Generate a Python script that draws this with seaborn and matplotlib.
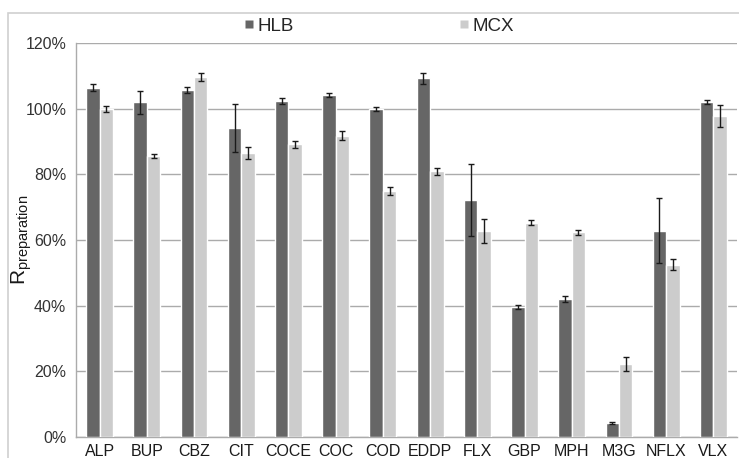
import numpy as np
import pandas as pd
import matplotlib
matplotlib.use('Agg')
import matplotlib.pyplot as plt
import seaborn as sns
from matplotlib.lines import Line2D
from matplotlib.patches import Rectangle
from matplotlib.ticker import FixedLocator, PercentFormatter

compounds = ['ALP', 'BUP', 'CBZ', 'CIT', 'COCE', 'COC', 'COD', 'EDDP',
             'FLX', 'GBP', 'MPH', 'M3G', 'NFLX', 'VLX']
methods = ['HLB', 'MCX']

hlb_mean = [106.4, 101.9, 105.7, 94.0, 102.4, 104.1, 99.9, 109.2,
            72.2, 39.5, 42.0, 4.3, 62.8, 101.9]
hlb_err = [1.0, 3.4, 1.0, 7.3, 0.9, 0.6, 0.6, 1.6,
           10.9, 0.6, 1.0, 0.4, 9.9, 0.6]
mcx_mean = [100.0, 85.6, 109.6, 86.6, 89.2, 91.8, 75.0, 80.9,
            62.8, 65.3, 62.3, 22.2, 52.5, 97.7]
mcx_err = [0.9, 0.7, 1.3, 1.8, 1.1, 1.3, 1.2, 1.0,
           3.7, 0.8, 0.8, 2.2, 1.7, 3.4]

colors = ['#666666', '#cccccc']

df = pd.DataFrame({
    'compound': compounds * 2,
    'method': ['HLB'] * len(compounds) + ['MCX'] * len(compounds),
    'value': [v / 100 for v in hlb_mean + mcx_mean],
})
errs = {'HLB': [e / 100 for e in hlb_err], 'MCX': [e / 100 for e in mcx_err]}

sns.set_style('white')
plt.rcParams['font.family'] = ['Liberation Sans', 'DejaVu Sans']
plt.rcParams['mathtext.fontset'] = 'custom'
plt.rcParams['mathtext.rm'] = 'Liberation Sans'
plt.rcParams['mathtext.it'] = 'Liberation Sans:italic'

fig = plt.figure(figsize=(7.39, 4.58), dpi=100)
ax = fig.add_axes([76 / 739, 21 / 458, 661 / 739, 394 / 458])

sns.barplot(data=df, x='compound', y='value', hue='method', order=compounds,
            hue_order=methods, palette=colors, width=0.57, saturation=1,
            errorbar=None, legend=False, ax=ax, zorder=3)

# error bars on top of each bar
for cont, m in zip(ax.containers, methods):
    xs = [b.get_x() + b.get_width() / 2 for b in cont]
    ys = [b.get_height() for b in cont]
    ax.errorbar(xs, ys, yerr=errs[m], fmt='none', ecolor='#1a1a1a',
                elinewidth=1.0, capsize=2.5, capthick=1.0, zorder=4)

ax.set_ylim(0, 1.2)
ax.set_xlim(-0.5, len(compounds) - 0.5)
ax.yaxis.set_major_locator(FixedLocator(np.arange(0, 1.21, 0.2)))
ax.yaxis.set_major_formatter(PercentFormatter(1.0, decimals=0))
ax.yaxis.grid(True, color='#ababab', lw=1.0, zorder=0)
ax.set_axisbelow(True)

# category labels centered, tick marks at the boundaries
ax.set_xticks(np.arange(-0.5, len(compounds)), labels=[''] * (len(compounds) + 1))
ax.set_xticks(np.arange(len(compounds)), labels=compounds, minor=True)
ax.tick_params(axis='x', which='major', direction='out', length=5,
               color='#ababab', width=1)
ax.tick_params(axis='x', which='minor', length=0, labelsize=11.5, pad=5,
               labelcolor='#1a1a1a')
ax.tick_params(axis='y', direction='out', length=4, color='#ababab', width=1,
               labelsize=11.5, labelcolor='#333333', pad=3)

for s in ['top', 'right']:
    ax.spines[s].set_visible(False)
for s in ['left', 'bottom']:
    ax.spines[s].set_color('#ababab')
    ax.spines[s].set_linewidth(1)

ax.set_xlabel('')
ax.set_ylabel(r'$\mathregular{R_{preparation}}$', fontsize=15, color='#1a1a1a')
ax.yaxis.set_label_coords(-0.063, 0.5)

handles = [Line2D([], [], marker='s', linestyle='none', markersize=5.2,
                  markerfacecolor=c, markeredgecolor='none') for c in colors]
fig.legend(handles, methods, loc='center', ncol=2, frameon=False,
           bbox_to_anchor=(379 / 739, 1 - 26 / 458), fontsize=13.5,
           handlelength=0.5, handletextpad=0.2, columnspacing=8.8)

# light frame around the whole chart
fig.patches.append(Rectangle((8 / 739, -0.01), 1.0, 1 - 13 / 458 + 0.01,
                             transform=fig.transFigure, fill=False,
                             edgecolor='#d0d0d0', lw=1.2))

fig.savefig('out.png', dpi=100)
